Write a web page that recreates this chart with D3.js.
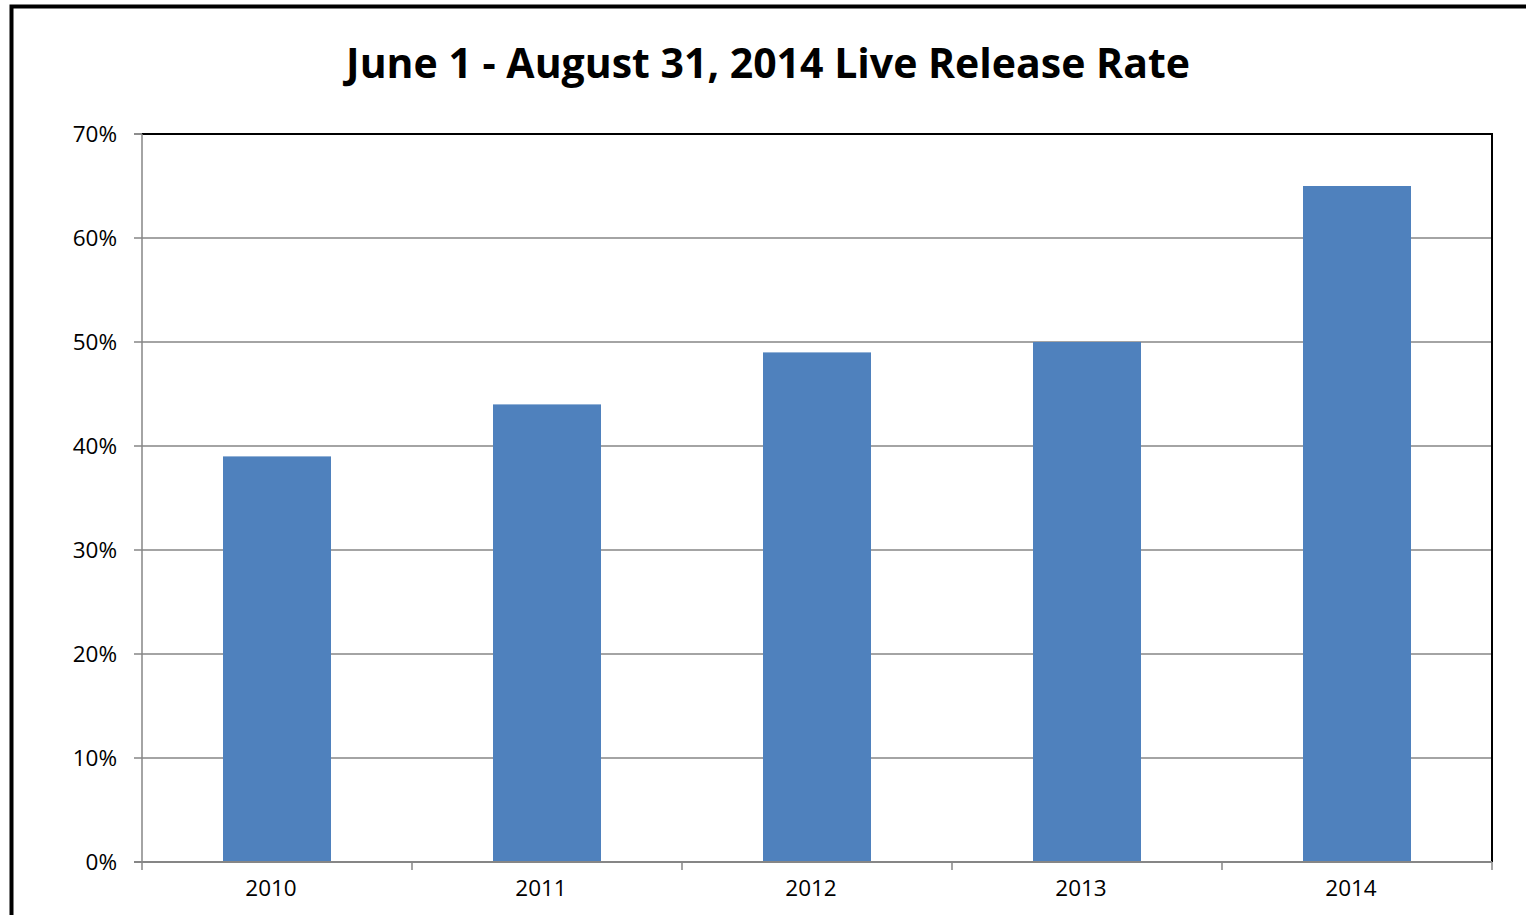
<!DOCTYPE html>
<html>
<head>
  <meta charset="UTF-8" />
  <title>Live Release Rate</title>
  <script src="https://d3js.org/d3.v7.min.js"></script>
  <style>
    body { margin: 0; background: #fff; }
    svg text { font-family: "Open Sans", "Noto Sans", sans-serif; fill: #000; }
    .title { font-size: 41px; font-weight: bold; }
    .tick-label { font-size: 22.5px; }
  </style>
</head>
<body>
<svg id="chart" width="1526" height="915"></svg>
<script>
  // data
  const years = ["2010", "2011", "2012", "2013", "2014"];
  const rates = [0.39, 0.44, 0.49, 0.50, 0.65];
  const yTicks = [0, 0.1, 0.2, 0.3, 0.4, 0.5, 0.6, 0.7];

  const svg = d3.select("#chart");
  const plot = { left: 142, right: 1492, top: 134, bottom: 862 };

  // outer frame, runs off the right and bottom edges
  svg.append("rect")
    .attr("x", 11.5).attr("y", 6.5)
    .attr("width", 1700).attr("height", 1200)
    .attr("fill", "none").attr("stroke", "#000").attr("stroke-width", 4);

  svg.append("text")
    .attr("class", "title")
    .attr("x", 768).attr("y", 78)
    .attr("text-anchor", "middle")
    .text("June 1 - August 31, 2014 Live Release Rate");

  const x = d3.scaleBand().domain(years).range([plot.left, plot.right]).paddingInner(0.6).paddingOuter(0.3);
  const band = d3.scaleBand().domain(years).range([plot.left, plot.right]);
  const y = d3.scaleLinear().domain([0, 0.7]).range([plot.bottom, plot.top]);

  // gridlines
  svg.selectAll(".grid")
    .data(yTicks.slice(1))
    .enter().append("line")
    .attr("x1", plot.left - 8).attr("x2", plot.right)
    .attr("y1", d => y(d)).attr("y2", d => y(d))
    .attr("stroke", "#868686").attr("stroke-width", 1.5);

  // bars
  svg.selectAll(".bar")
    .data(rates)
    .enter().append("rect")
    .attr("x", (d, i) => x(years[i]))
    .attr("width", x.bandwidth())
    .attr("y", d => y(d))
    .attr("height", d => y(0) - y(d))
    .attr("fill", "#4F81BD");

  // plot frame: top and right black
  svg.append("line")
    .attr("x1", plot.left).attr("x2", plot.right + 1)
    .attr("y1", plot.top).attr("y2", plot.top)
    .attr("stroke", "#000").attr("stroke-width", 2);
  svg.append("line")
    .attr("x1", plot.right).attr("x2", plot.right)
    .attr("y1", plot.top).attr("y2", plot.bottom)
    .attr("stroke", "#000").attr("stroke-width", 2);

  // y axis
  svg.append("line")
    .attr("x1", plot.left).attr("x2", plot.left)
    .attr("y1", plot.top).attr("y2", plot.bottom)
    .attr("stroke", "#868686").attr("stroke-width", 1.5);
  svg.append("line")
    .attr("x1", plot.left - 8).attr("x2", plot.left)
    .attr("y1", plot.top).attr("y2", plot.top)
    .attr("stroke", "#868686").attr("stroke-width", 1.5);
  svg.selectAll(".ylab")
    .data(yTicks)
    .enter().append("text")
    .attr("class", "tick-label")
    .attr("x", 117).attr("y", d => y(d) + 8)
    .attr("text-anchor", "end")
    .text(d3.format(".0%"));

  // x axis
  svg.append("line")
    .attr("x1", plot.left - 8).attr("x2", plot.right)
    .attr("y1", plot.bottom).attr("y2", plot.bottom)
    .attr("stroke", "#868686").attr("stroke-width", 2);
  const xTickPos = years.map(d => band(d)).concat([plot.right]);
  svg.selectAll(".xtick")
    .data(xTickPos)
    .enter().append("line")
    .attr("x1", d => d).attr("x2", d => d)
    .attr("y1", plot.bottom).attr("y2", plot.bottom + 8)
    .attr("stroke", "#868686").attr("stroke-width", 1.5);
  svg.selectAll(".xlab")
    .data(years)
    .enter().append("text")
    .attr("class", "tick-label")
    .attr("x", d => band(d) + band.bandwidth() / 2 - 6)
    .attr("y", plot.bottom + 34)
    .attr("text-anchor", "middle")
    .text(d => d);
</script>
</body>
</html>
